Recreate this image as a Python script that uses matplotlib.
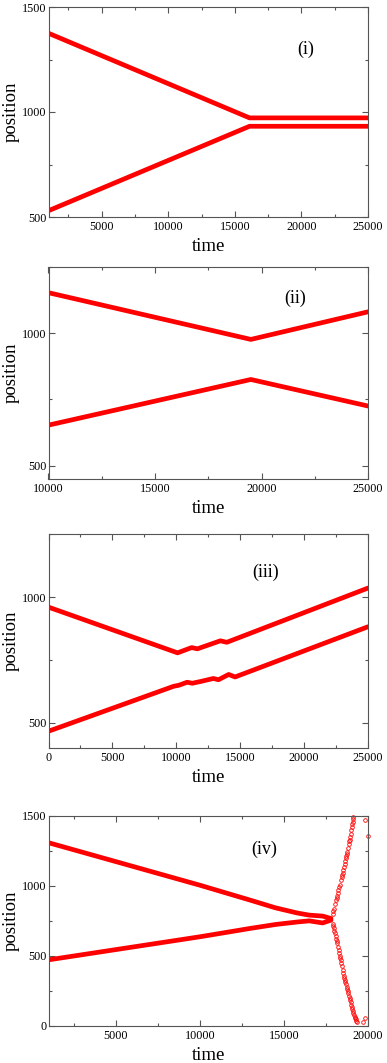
import matplotlib
matplotlib.use('Agg')
import matplotlib.pyplot as plt
from matplotlib.ticker import MultipleLocator

plt.rcParams['font.family'] = ['Liberation Serif', 'DejaVu Serif']

# Panel (i)
t1 = [1000, 16100, 25000]
top1 = [1375, 972, 972]
bot1 = [530, 932, 932]

# Panel (ii)
t2 = [10000, 19500, 25000]
top2 = [1152, 976, 1080]
bot2 = [653, 825, 725]

# Panel (iii)
t3_top = [0, 10100, 11200, 11650, 13450, 13950, 25000]
top3 = [960, 778, 799, 794, 826, 820, 1036]
t3_bot = [0, 9800, 10200, 10850, 11250, 11900, 12900, 13300, 14100, 14600, 25000]
bot3 = [466, 645, 649, 661, 657, 664, 676, 671, 692, 682, 882]

# Panel (iv) - solid part
t4 = [1000, 10000, 13000, 14500, 15800, 16500, 17300, 17800]
top4 = [1309, 1005, 898, 843, 806, 791, 784, 767]
bot4 = [471, 636, 696, 724, 742, 750, 735, 755]

# Panel (iv) - scattered part after breakup
sc_up_t = [17900, 17940, 17980, 18040, 18100, 18140, 18180, 18210, 18240, 18290,
           18330, 18390, 18440, 18470, 18500, 18540, 18580, 18620, 18650, 18690,
           18720, 18750, 18780, 18820, 18850, 18880, 18900, 18940, 18970, 19000,
           19030, 19060, 19080, 19110, 19130, 19840, 20000]
sc_up_y = [800, 820, 838, 870, 898, 915, 930, 950, 969, 990,
           1010, 1040, 1064, 1078, 1090, 1112, 1136, 1160, 1180, 1198,
           1215, 1230, 1243, 1272, 1300, 1318, 1330, 1352, 1374, 1398,
           1420, 1440, 1455, 1475, 1493, 1474, 1357]
sc_lo_t = [17900, 17930, 17950, 18000, 18050, 18090, 18120, 18150, 18180, 18220,
           18250, 18290, 18320, 18350, 18380, 18420, 18450, 18490, 18530, 18570,
           18600, 18630, 18660, 18700, 18730, 18770, 18800, 18840, 18870, 18900,
           18930, 18970, 19000, 19040, 19070, 19100, 19130, 19170, 19200, 19240,
           19270, 19300, 19330, 19730, 19830]
sc_lo_y = [730, 715, 700, 680, 660, 640, 620, 605, 588, 565,
           540, 520, 500, 485, 469, 450, 430, 400, 374, 355,
           340, 325, 310, 295, 279, 265, 250, 232, 215, 200,
           184, 168, 150, 135, 120, 104, 88, 76, 65, 55,
           45, 36, 29, 29, 53]

W, H = 387, 1063
fig = plt.figure(figsize=(W / 100, H / 100), dpi=100)

# axes boxes in pixels: (top, bottom)
boxes = [(7, 217), (266.7, 479), (534.3, 747.8), (816, 1025.7)]
xl, xr = 48.5, 368

axes = []
for top, bot in boxes:
    ax = fig.add_axes([xl / W, 1 - bot / H, (xr - xl) / W, (bot - top) / H])
    axes.append(ax)

red = '#ff0000'
lw = 3.4

ax = axes[0]
ax.plot(t1, top1, color=red, lw=lw, solid_capstyle='round')
ax.plot(t1, bot1, color=red, lw=lw, solid_capstyle='round')
ax.set_xlim(1000, 25000)
ax.set_ylim(500, 1500)
ax.set_yticks([500, 1000, 1500])
ax.set_xticks([5000, 10000, 15000, 20000, 25000])
ax.text(20300, 1300, '(i)', ha='center', va='center', fontsize=13)

ax = axes[1]
ax.plot(t2, top2, color=red, lw=lw, solid_capstyle='round')
ax.plot(t2, bot2, color=red, lw=lw, solid_capstyle='round')
ax.set_xlim(10000, 25000)
ax.set_ylim(450, 1250)
ax.set_yticks([500, 1000])
ax.set_xticks([10000, 15000, 20000, 25000])
ax.text(21600, 1130, '(ii)', ha='center', va='center', fontsize=13)

ax = axes[2]
ax.plot(t3_top, top3, color=red, lw=lw, solid_capstyle='round')
ax.plot(t3_bot, bot3, color=red, lw=lw, solid_capstyle='round')
ax.set_xlim(0, 25000)
ax.set_ylim(400, 1250)
ax.set_yticks([500, 1000])
ax.set_xticks([0, 5000, 10000, 15000, 20000, 25000])
ax.text(17000, 1100, '(iii)', ha='center', va='center', fontsize=13)

ax = axes[3]
ax.plot(t4, top4, color=red, lw=lw, solid_capstyle='round')
ax.plot(t4, bot4, color=red, lw=lw, solid_capstyle='round')
ax.plot(sc_up_t, sc_up_y, 'o', mfc='none', mec=red, ms=2.6, mew=0.6, clip_on=False)
ax.plot(sc_lo_t, sc_lo_y, 'o', mfc='none', mec=red, ms=2.6, mew=0.6, clip_on=False)
ax.set_xlim(1000, 20000)
ax.set_ylim(0, 1500)
ax.set_yticks([0, 500, 1000, 1500])
ax.set_xticks([5000, 10000, 15000, 20000])
ax.text(13800, 1265, '(iv)', ha='center', va='center', fontsize=13)

for ax in axes:
    ax.xaxis.set_minor_locator(MultipleLocator(2500))
    ax.yaxis.set_minor_locator(MultipleLocator(250))
    ax.tick_params(which='both', direction='in', top=True, right=True,
                   labelsize=8.7, color='#555555', width=0.8)
    ax.tick_params(which='major', length=4)
    ax.tick_params(which='minor', length=2)
    ax.tick_params(axis='x', pad=3)
    ax.tick_params(axis='y', pad=1.5)
    for s in ax.spines.values():
        s.set_color('#555555')
        s.set_linewidth(0.8)
    ax.set_xlabel('time', fontsize=13.5, labelpad=3.5)
    ax.set_ylabel('position', fontsize=13.5, labelpad=1.5)

fig.savefig('out.png', dpi=100)
